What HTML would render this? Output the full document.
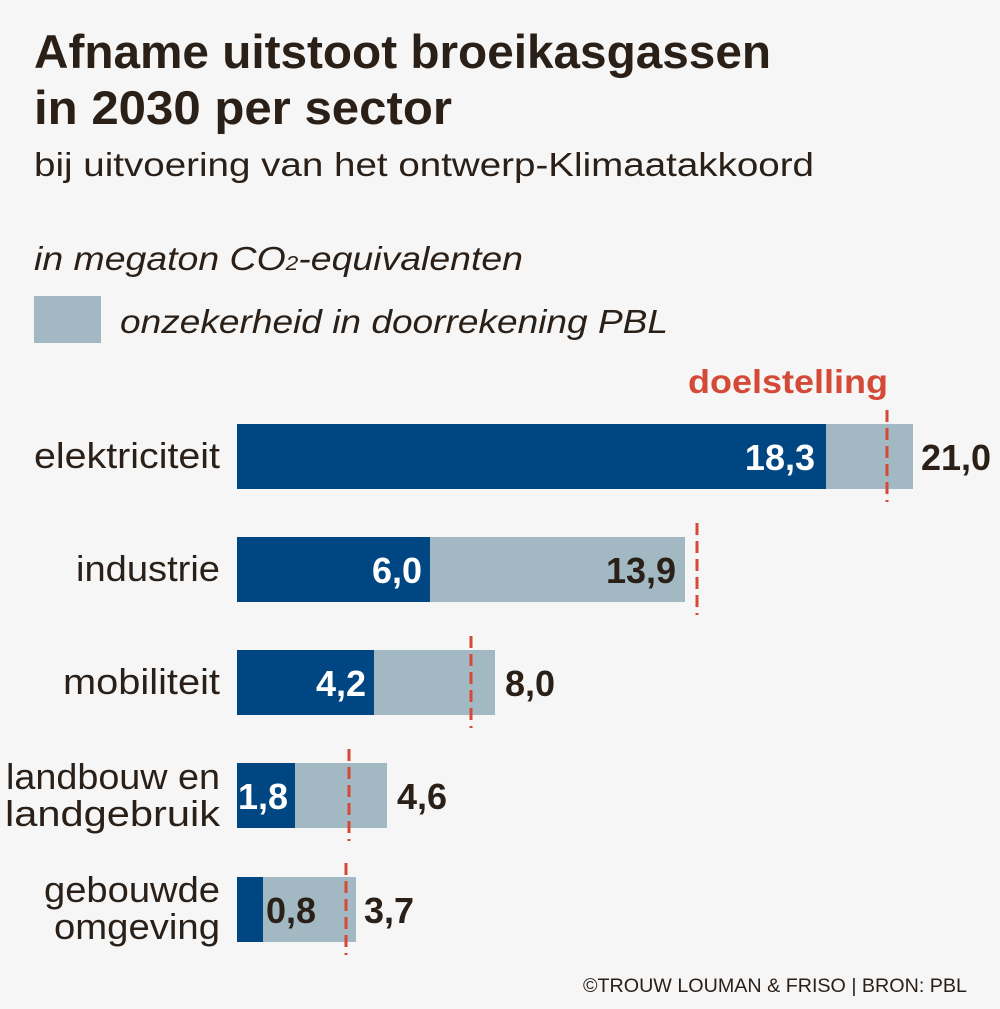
<!DOCTYPE html>
<html><head><meta charset="utf-8"><style>
html,body{margin:0;padding:0;background:#f6f6f6}
svg{display:block}
text{font-family:"Liberation Sans",sans-serif}
</style></head><body>
<svg width="1000" height="1009" viewBox="0 0 1000 1009" xmlns="http://www.w3.org/2000/svg">
<rect width="1000" height="1009" fill="#f6f6f6"/>
<g fill="#2a2018">
<text x="34" y="68" font-size="47" font-weight="bold" textLength="737" lengthAdjust="spacingAndGlyphs">Afname uitstoot broeikasgassen</text>
<text x="34" y="124" font-size="47" font-weight="bold" textLength="418" lengthAdjust="spacingAndGlyphs">in 2030 per sector</text>
<text x="34" y="176" font-size="33" textLength="780" lengthAdjust="spacingAndGlyphs">bij uitvoering van het ontwerp-Klimaatakkoord</text>
<text x="34" y="270" font-size="33" font-style="italic" textLength="489" lengthAdjust="spacingAndGlyphs">in megaton CO<tspan font-size="20">2</tspan>-equivalenten</text>
<text x="120" y="333" font-size="33" font-style="italic" textLength="548" lengthAdjust="spacingAndGlyphs">onzekerheid in doorrekening PBL</text>
</g>
<rect x="34" y="296" width="67" height="47" fill="#a2b8c2"/>
<text x="688" y="393" font-size="33" font-weight="bold" fill="#d44a36" textLength="200" lengthAdjust="spacingAndGlyphs">doelstelling</text>

<g fill="#a2b8c2">
<rect x="237" y="424" width="676" height="65"/>
<rect x="237" y="537" width="448" height="65"/>
<rect x="237" y="650" width="258" height="65"/>
<rect x="237" y="763" width="150" height="65"/>
<rect x="237" y="877" width="119" height="65"/>
</g>
<g fill="#004682">
<rect x="237" y="424" width="589" height="65"/>
<rect x="237" y="537" width="193" height="65"/>
<rect x="237" y="650" width="137" height="65"/>
<rect x="237" y="763" width="58" height="65"/>
<rect x="237" y="877" width="26" height="65"/>
</g>
<g stroke="#d44a36" stroke-width="3" stroke-dasharray="12,6">
<line x1="887" y1="410" x2="887" y2="502"/>
<line x1="697" y1="523" x2="697" y2="615"/>
<line x1="471" y1="636" x2="471" y2="728"/>
<line x1="349" y1="749" x2="349" y2="841"/>
<line x1="346" y1="863" x2="346" y2="955"/>
</g>
<g fill="#2a2018" font-size="36" text-anchor="end" lengthAdjust="spacingAndGlyphs">
<text x="220" y="468" textLength="186" lengthAdjust="spacingAndGlyphs">elektriciteit</text>
<text x="220" y="581" textLength="144" lengthAdjust="spacingAndGlyphs">industrie</text>
<text x="220" y="694" textLength="157" lengthAdjust="spacingAndGlyphs">mobiliteit</text>
<text x="220" y="789" textLength="214" lengthAdjust="spacingAndGlyphs">landbouw en</text>
<text x="220" y="826" textLength="215" lengthAdjust="spacingAndGlyphs">landgebruik</text>
<text x="220" y="902" textLength="176" lengthAdjust="spacingAndGlyphs">gebouwde</text>
<text x="220" y="939" textLength="166" lengthAdjust="spacingAndGlyphs">omgeving</text>
</g>
<g fill="#fff" font-size="36" font-weight="bold" text-anchor="end">
<text x="815" y="470">18,3</text>
<text x="422" y="583">6,0</text>
<text x="366" y="696">4,2</text>
<text x="288" y="809">1,8</text>
</g>
<g fill="#2a2018" font-size="36" font-weight="bold">
<text x="921" y="470">21,0</text>
<text x="606" y="583">13,9</text>
<text x="505" y="696">8,0</text>
<text x="397" y="809">4,6</text>
<text x="266" y="923">0,8</text>
<text x="364" y="923">3,7</text>
</g>
<text x="967" y="992" font-size="19" fill="#2a2018" text-anchor="end" textLength="384" lengthAdjust="spacingAndGlyphs">©TROUW LOUMAN &amp; FRISO | BRON: PBL</text>
</svg>
</body></html>
